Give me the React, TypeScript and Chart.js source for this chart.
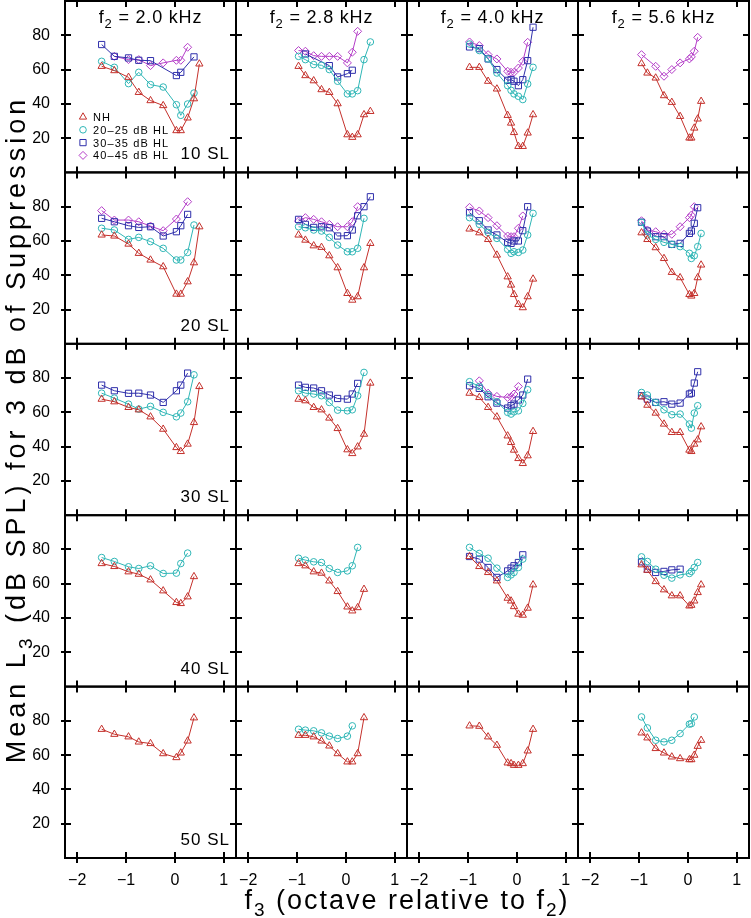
import React, { useEffect, useRef } from 'react';
import { Chart, registerables } from 'chart.js';
import { drawPoint } from 'chart.js/helpers';

Chart.register(...registerables);

// ---------------- data ----------------
const F2_KHZ = ['2.0', '2.8', '4.0', '5.6'];
const SL_LEVELS = ['10', '20', '30', '40', '50'];
const GROUP_LABELS = ['NH', '20\u201325 dB HL', '30\u201335 dB HL', '40\u201345 dB HL'];
const X_TICKS = [-2, -1, 0, 1];
const Y_TICKS = [20, 40, 60, 80];
const X_MIN = -2.25;
const X_MAX = 1.25;
const Y_MIN = 0;
const Y_MAX = 100;

// f3 positions (octaves re f2) for each f2 column
const F3_2000 = [-1.5, -1.24, -0.95, -0.74, -0.5, -0.24, 0.03, 0.12, 0.26, 0.39, 0.5];
const F3_2800 = [-0.97, -0.83, -0.66, -0.5, -0.34, -0.17, 0.03, 0.13, 0.24, 0.37, 0.5];
const F3_4000 = [-0.97, -0.77, -0.59, -0.41, -0.19, -0.12, -0.06, 0.03, 0.12, 0.22, 0.33];
const F3_5600 = [-0.95, -0.83, -0.66, -0.49, -0.33, -0.16, 0.03, 0.07, 0.13, 0.2, 0.27];

const _ = null;
// each array: [f2=2.0, f2=2.8, f2=4.0, f2=5.6]
// 10 SL
const NH_10SL = [
  [61.9, 59.4, 55.5, 46.7, 41.9, 39.0, 24.4, 24.4, 31.8, 43.0, 63.3],
  [61.9, 56.5, 53.5, 48.3, 46.7, 40.1, 22.0, 20.5, 22.0, 33.7, 35.6],
  [61.3, 61.3, 53.2, 48.7, 33.3, 28.8, 23.3, 15.2, 15.2, 23.0, 33.7],
  [63.5, 58.0, 55.1, 44.8, 40.9, 32.7, 20.1, 20.1, 25.9, 31.2, 41.5],
];
const HL20_10SL = [
  [64.8, 61.3, 51.8, 58.4, 51.2, 49.8, 39.5, 33.3, 39.9, 46.3, _],
  [67.7, 65.8, 62.9, 62.5, 60.0, 53.2, 45.8, 45.8, 47.7, 65.8, 76.1],
  [74.9, 71.1, 66.2, 58.0, 50.6, 47.9, 45.8, 44.4, 42.5, 51.6, 61.3],
  [_, _, _, _, _, _, _, _, _, _, _],
];
const HL30_10SL = [
  [74.6, 67.7, 66.8, 65.4, 65.2, _, 56.5, 58.4, _, 67.4, _],
  [_, 69.1, _, _, 62.3, 55.7, 57.6, 59.6, _, _, _],
  [73.2, 72.2, 66.2, 60.0, 53.7, 54.1, 53.2, 50.6, 54.1, 65.2, 84.7],
  [_, _, _, _, _, _, _, _, _, _, _],
];
const HL40_10SL = [
  [_, 67.7, 65.8, 65.8, 62.3, 63.9, 65.4, 65.4, 73.0, _, _],
  [71.1, 70.7, 68.1, 67.7, 67.7, 67.7, 63.9, 70.1, 82.3, _, _],
  [76.1, 74.0, 68.7, 66.2, 59.0, 58.4, 58.4, 60.9, 64.8, 75.9, _],
  [68.7, _, 61.9, 56.1, 60.0, 63.9, 66.2, 67.4, 70.7, 78.8, _],
];
// 20 SL
const NH_20SL = [
  [63.5, 62.9, 58.2, 52.8, 48.9, 45.0, 29.0, 29.0, 36.2, 47.3, 68.3],
  [63.5, 60.5, 57.2, 56.3, 51.4, 44.4, 29.4, 25.5, 27.5, 44.4, 58.6],
  [67.0, 64.8, 60.9, 51.8, 39.1, 34.3, 28.8, 23.0, 21.1, 27.5, 37.8],
  [64.8, 60.9, 56.1, 49.8, 41.7, 38.6, 28.8, 27.9, 29.4, 38.6, 46.0],
];
const HL20_20SL = [
  [67.4, 66.4, 60.9, 62.1, 59.6, 55.7, 48.9, 48.9, 53.3, 69.3, _],
  [68.3, 67.7, 66.4, 65.8, 62.1, 57.6, 53.7, 53.7, 55.7, 73.2, _],
  [73.6, 69.7, 65.0, 61.5, 55.1, 52.8, 53.7, 53.3, 54.7, 63.5, 76.1],
  [70.9, 63.5, 60.9, 59.2, 58.0, 56.7, 52.8, 49.8, 51.4, 56.7, 64.4],
];
const HL30_20SL = [
  [73.2, 71.2, 68.9, 67.9, 68.3, 62.9, 65.4, 68.9, 75.5, _, _],
  [72.6, 69.7, 67.9, 68.3, 67.7, 62.9, 63.1, 66.4, 74.7, 80.0, 85.8],
  [76.5, 71.8, 66.4, 63.5, 59.2, 58.6, 60.0, 60.0, 66.0, 80.0, _],
  [70.9, 65.8, 62.5, 62.5, 58.0, 58.6, 64.4, 65.8, 70.3, 79.4, _],
];
const HL40_20SL = [
  [77.7, 72.2, 72.2, 71.2, 68.7, 66.0, 72.8, _, 82.9, _, _],
  [71.6, 73.6, 72.6, 71.2, 69.7, 68.3, 68.3, 71.2, 80.0, _, _],
  [79.6, 77.5, 73.6, 68.9, 62.9, 62.5, 62.5, 67.4, 74.6, _, _],
  [71.8, 66.4, 65.4, 63.9, 63.9, 68.3, 73.6, 75.1, 80.0, _, _],
];
// 30 SL
const NH_30SL = [
  [67.7, 66.2, 62.9, 61.5, 57.4, 50.2, 39.5, 37.2, 41.5, 54.1, 75.1],
  [67.7, 66.8, 62.9, 61.5, 56.7, 50.6, 38.2, 36.0, 39.9, 47.3, 77.1],
  [71.2, 68.7, 62.9, 57.4, 46.3, 42.5, 38.0, 33.1, 30.2, 34.7, 48.9],
  [69.1, 64.2, 59.6, 53.2, 48.3, 48.3, 38.0, 37.2, 41.5, 44.0, 51.6],
];
const HL20_30SL = [
  [71.2, 68.3, 64.8, 61.9, 63.5, 60.0, 57.4, 59.6, 66.2, 81.9, _],
  [72.6, 71.2, 70.7, 69.7, 65.8, 61.3, 60.9, 61.5, 69.7, 83.3, _],
  [77.9, 75.1, 70.3, 66.2, 60.0, 59.0, 60.3, 60.9, 65.2, 73.2, _],
  [71.6, 70.1, 65.8, 61.5, 58.6, 59.0, 53.2, 50.8, 59.6, 63.9, _],
];
const HL30_30SL = [
  [75.9, 72.6, 71.1, 71.2, 70.1, 65.8, 72.6, 75.9, 82.9, _, _],
  [75.9, 74.6, 74.2, 72.6, 70.1, 68.1, 67.7, 70.7, 76.9, _, _],
  [75.5, 74.0, 69.1, 65.4, 62.5, 63.9, 64.8, 67.2, 70.1, 79.4, _],
  [69.7, 67.7, 65.8, 66.2, 64.8, 65.4, 70.7, 71.2, 77.1, 83.7, _],
];
const HL40_30SL = [
  [_, _, _, _, _, _, _, _, _, _, _],
  [_, _, _, _, _, _, _, _, _, _, _],
  [_, 78.4, 71.2, 69.3, 68.7, 69.1, 70.7, 75.1, _, _, _],
  [_, _, _, _, _, _, _, _, _, _, _],
];
// 40 SL
const NH_40SL = [
  [71.8, 70.1, 67.0, 65.6, 62.3, 55.9, 49.1, 48.5, 52.4, 64.2, _],
  [71.8, 70.5, 67.0, 66.2, 61.7, 55.5, 46.5, 44.2, 46.1, 56.8, _],
  [75.9, 70.1, 66.6, 61.7, 51.6, 50.0, 46.7, 42.3, 41.7, 45.8, 59.4],
  [71.1, 67.9, 61.3, 56.5, 53.0, 53.0, 47.1, 47.5, 50.0, 54.9, 59.4],
];
const HL20_40SL = [
  [75.3, 73.0, 69.9, 68.9, 70.5, 66.0, 66.2, 71.8, 77.9, _, _],
  [74.9, 73.8, 72.8, 72.4, 68.9, 66.6, 67.5, 70.5, 81.2, _, _],
  [81.2, 77.7, 74.9, 69.1, 63.7, 65.2, 66.6, 69.5, 74.4, _, _],
  [75.7, 73.0, 68.5, 65.0, 63.3, 65.2, 66.0, 67.2, 69.5, 72.4, _],
];
const HL30_40SL = [
  [_, _, _, _, _, _, _, _, _, _, _],
  [_, _, _, _, _, _, _, _, _, _, _],
  [75.9, 74.4, 69.5, 63.7, 67.5, 69.1, 70.5, 72.4, 76.9, _, _],
  [72.8, 68.5, 66.6, 67.2, 68.1, 68.5, _, _, _, _, _],
];
const HL40_40SL = [
  [_, _, _, _, _, _, _, _, _, _, _],
  [_, _, _, _, _, _, _, _, _, _, _],
  [_, _, _, _, _, _, _, _, _, _, _],
  [_, _, _, _, _, _, _, _, _, _, _],
];
// 50 SL
const NH_50SL = [
  [75.1, 72.2, 70.7, 67.7, 66.8, 60.9, 58.6, 61.3, 68.3, 81.8, _],
  [71.6, 71.6, 70.7, 68.3, 65.4, 60.9, 56.1, 56.1, 60.9, 81.9, _],
  [77.1, 76.9, 70.7, 65.8, 55.5, 55.1, 54.1, 54.1, 55.1, 62.5, 75.1],
  [73.0, 70.1, 63.9, 61.3, 59.0, 58.0, 57.4, 57.4, 60.0, 65.2, 68.7],
];
const HL20_50SL = [
  [_, _, _, _, _, _, _, _, _, _, _],
  [75.1, 74.6, 74.2, 73.0, 71.1, 69.7, 71.1, 77.1, _, _, _],
  [_, _, _, _, _, _, _, _, _, _, _],
  [82.3, 75.9, 68.7, 67.7, 68.7, 72.6, 78.1, 78.4, 82.3, _, _],
];
const HL30_50SL = [
  [_, _, _, _, _, _, _, _, _, _, _],
  [_, _, _, _, _, _, _, _, _, _, _],
  [_, _, _, _, _, _, _, _, _, _, _],
  [_, _, _, _, _, _, _, _, _, _, _],
];
const HL40_50SL = HL30_50SL;

// ---------------- styling ----------------
const FAMILY = '"Liberation Sans", Arial, Helvetica, sans-serif';
const F3_COLS = [F3_2000, F3_2800, F3_4000, F3_5600];
const GROUPS = [
  { color: '#c4302b', style: 'triangle', radius: 4.2, rows: [NH_10SL, NH_20SL, NH_30SL, NH_40SL, NH_50SL] },
  { color: '#2fb6b6', style: 'circle', radius: 3.3, rows: [HL20_10SL, HL20_20SL, HL20_30SL, HL20_40SL, HL20_50SL] },
  { color: '#2f2fab', style: 'rect', radius: 4.4, rows: [HL30_10SL, HL30_20SL, HL30_30SL, HL30_40SL, HL30_50SL] },
  { color: '#b43ec8', style: 'rectRot', radius: 4, rows: [HL40_10SL, HL40_20SL, HL40_30SL, HL40_40SL, HL40_50SL] },
];

type Seg = { t: string; sub?: boolean };

function drawRich(ctx: CanvasRenderingContext2D, segs: Seg[], x: number, y: number, size: number, align: string, spacing: number) {
  ctx.save();
  (ctx as any).letterSpacing = spacing + 'px';
  ctx.textBaseline = 'alphabetic';
  ctx.textAlign = 'left';
  ctx.fillStyle = '#000';
  const subSize = Math.round(size * 0.7);
  const widths = segs.map((s) => {
    ctx.font = `${s.sub ? subSize : size}px ${FAMILY}`;
    return ctx.measureText(s.t).width;
  });
  const total = widths.reduce((a, b) => a + b, 0);
  let cx = align === 'left' ? x : align === 'center' ? x - total / 2 : x - total;
  segs.forEach((s, i) => {
    ctx.font = `${s.sub ? subSize : size}px ${FAMILY}`;
    ctx.fillText(s.t, cx, s.sub ? y + size * 0.25 : y);
    cx += widths[i];
  });
  ctx.restore();
}

const panelPlugin = {
  id: 'panelFrames',
  beforeDatasetsDraw(chart: any) {
    const ctx: CanvasRenderingContext2D = chart.ctx;
    ctx.save();
    ctx.strokeStyle = '#000';
    ctx.lineWidth = 2;
    for (let r = 0; r < SL_LEVELS.length; r++) {
      for (let c = 0; c < F2_KHZ.length; c++) {
        const xs = chart.scales['x' + c];
        const ys = chart.scales['y' + r];
        const L = xs.getPixelForValue(X_MIN);
        const R = xs.getPixelForValue(X_MAX);
        const T = ys.getPixelForValue(Y_MAX);
        const B = ys.getPixelForValue(Y_MIN);
        ctx.strokeRect(L, T, R - L, B - T);
        ctx.beginPath();
        X_TICKS.forEach((v) => {
          const px = Math.round(xs.getPixelForValue(v));
          ctx.moveTo(px, T);
          ctx.lineTo(px, T + 6);
          ctx.moveTo(px, B);
          ctx.lineTo(px, B - 6);
          if (r === SL_LEVELS.length - 1) {
            ctx.moveTo(px, B);
            ctx.lineTo(px, B + 5);
          }
        });
        Y_TICKS.forEach((v) => {
          const py = Math.round(ys.getPixelForValue(v));
          ctx.moveTo(L, py);
          ctx.lineTo(L + 6, py);
          ctx.moveTo(R, py);
          ctx.lineTo(R - 6, py);
          if (c === 0) {
            ctx.moveTo(L, py);
            ctx.lineTo(L - 4, py);
          }
        });
        ctx.stroke();
      }
    }
    ctx.restore();
  },
  afterDraw(chart: any) {
    const ctx: CanvasRenderingContext2D = chart.ctx;
    const area = chart.chartArea;
    // column titles
    F2_KHZ.forEach((f, c) => {
      const xs = chart.scales['x' + c];
      const ys = chart.scales['y0'];
      const cx = (xs.getPixelForValue(X_MIN) + xs.getPixelForValue(X_MAX)) / 2;
      drawRich(ctx, [{ t: 'f' }, { t: '2', sub: true }, { t: ' = ' + f + ' kHz' }], cx, ys.getPixelForValue(Y_MAX) + 22, 18, 'center', 0.8);
    });
    // SL labels
    SL_LEVELS.forEach((s, r) => {
      const xs = chart.scales['x0'];
      const ys = chart.scales['y' + r];
      drawRich(ctx, [{ t: s + ' SL' }], xs.getPixelForValue(X_MAX) - 6, ys.getPixelForValue(Y_MIN) - 13, 17, 'right', 1);
    });
    // legend in first panel
    {
      const xs = chart.scales['x0'];
      const ys = chart.scales['y0'];
      const L = xs.getPixelForValue(X_MIN);
      const T = ys.getPixelForValue(Y_MAX);
      GROUPS.forEach((g, i) => {
        const y = T + 116 + i * 12.8;
        ctx.save();
        ctx.strokeStyle = g.color;
        ctx.fillStyle = 'rgba(0,0,0,0)';
        ctx.lineWidth = 1;
        drawPoint(ctx, { pointStyle: g.style as any, radius: g.radius, rotation: 0, borderWidth: 1 } as any, L + 18, y);
        ctx.restore();
        drawRich(ctx, [{ t: GROUP_LABELS[i] }], L + 28, y + 4, 11, 'left', 1.1);
      });
    }
    // x title
    drawRich(
      ctx,
      [{ t: 'f' }, { t: '3', sub: true }, { t: ' (octave relative to f' }, { t: '2', sub: true }, { t: ')' }],
      (area.left + area.right) / 2,
      909,
      27,
      'center',
      2
    );
    // y title
    ctx.save();
    ctx.translate(25, (area.top + area.bottom) / 2);
    ctx.rotate(-Math.PI / 2);
    drawRich(
      ctx,
      [{ t: 'Mean L' }, { t: '3', sub: true }, { t: ' (dB SPL) for 3 dB of Suppression' }],
      0,
      0,
      27,
      'center',
      4
    );
    ctx.restore();
  },
};

function fmtTick(v: number) {
  return v < 0 ? '\u2212' + Math.abs(v) : String(v);
}

function zeroPadding(s: any) {
  s.paddingTop = 0;
  s.paddingBottom = 0;
  s.paddingLeft = 0;
  s.paddingRight = 0;
}

export default function App() {
  const ref = useRef<HTMLCanvasElement | null>(null);
  useEffect(() => {
    const canvas = ref.current;
    if (!canvas) return;
    Chart.defaults.font.family = FAMILY;
    Chart.defaults.color = '#000';

    const scales: any = {};
    F2_KHZ.forEach((_f, c) => {
      scales['x' + c] = {
        type: 'linear',
        position: 'bottom',
        stack: 'cols',
        stackWeight: 1,
        weight: c + 1,
        min: X_MIN,
        max: X_MAX,
        afterBuildTicks: (s: any) => {
          s.ticks = X_TICKS.map((v) => ({ value: v }));
        },
        afterFit: (s: any) => {
          s.height = 30;
          zeroPadding(s);
        },
        grid: { display: false },
        border: { display: false },
        ticks: {
          autoSkip: false,
          maxRotation: 0,
          padding: 5,
          color: '#000',
          font: { size: 16, family: FAMILY },
          callback: (v: any) => fmtTick(Number(v)),
        },
      };
    });
    SL_LEVELS.forEach((_s, r) => {
      scales['y' + r] = {
        type: 'linear',
        position: 'left',
        stack: 'rows',
        stackWeight: 1,
        weight: SL_LEVELS.length - r,
        min: Y_MIN,
        max: Y_MAX,
        afterBuildTicks: (s: any) => {
          s.ticks = Y_TICKS.map((v) => ({ value: v }));
        },
        afterFit: (s: any) => {
          s.width = 65;
          zeroPadding(s);
        },
        grid: { display: false },
        border: { display: false },
        ticks: {
          autoSkip: false,
          padding: 7,
          color: '#000',
          font: { size: 16, family: FAMILY },
          callback: (v: any) => String(v),
        },
      };
    });

    const datasets: any[] = [];
    SL_LEVELS.forEach((_s, r) => {
      F2_KHZ.forEach((_f, c) => {
        GROUPS.forEach((g, gi) => {
          const vals = g.rows[r][c];
          const pts = F3_COLS[c]
            .map((x, i) => ({ x, y: vals[i] }))
            .filter((p) => p.y !== null && p.y !== undefined);
          if (!pts.length) return;
          datasets.push({
            label: GROUP_LABELS[gi] + ' ' + SL_LEVELS[r] + ' SL f2=' + F2_KHZ[c],
            data: pts,
            xAxisID: 'x' + c,
            yAxisID: 'y' + r,
            borderColor: g.color,
            borderWidth: 1,
            backgroundColor: 'rgba(0,0,0,0)',
            pointStyle: g.style,
            pointRadius: g.radius,
            pointBorderColor: g.color,
            pointBackgroundColor: 'rgba(0,0,0,0)',
            pointBorderWidth: 1,
            tension: 0,
            fill: false,
          });
        });
      });
    });

    const chart = new Chart(canvas, {
      type: 'line',
      data: { datasets },
      options: {
        responsive: false,
        maintainAspectRatio: false,
        animation: false,
        devicePixelRatio: 1,
        layout: { padding: { left: 0, right: 2, top: 1, bottom: 30 }, autoPadding: false },
        scales,
        plugins: { legend: { display: false }, tooltip: { enabled: false }, title: { display: false } },
        events: [],
      } as any,
      plugins: [panelPlugin as any],
    });
    return () => chart.destroy();
  }, []);

  return (
    <div style={{ position: 'absolute', left: 0, top: 0, width: 751, height: 918, background: '#fff' }}>
      <canvas ref={ref} width={751} height={918} style={{ width: 751, height: 918, display: 'block' }} />
    </div>
  );
}
